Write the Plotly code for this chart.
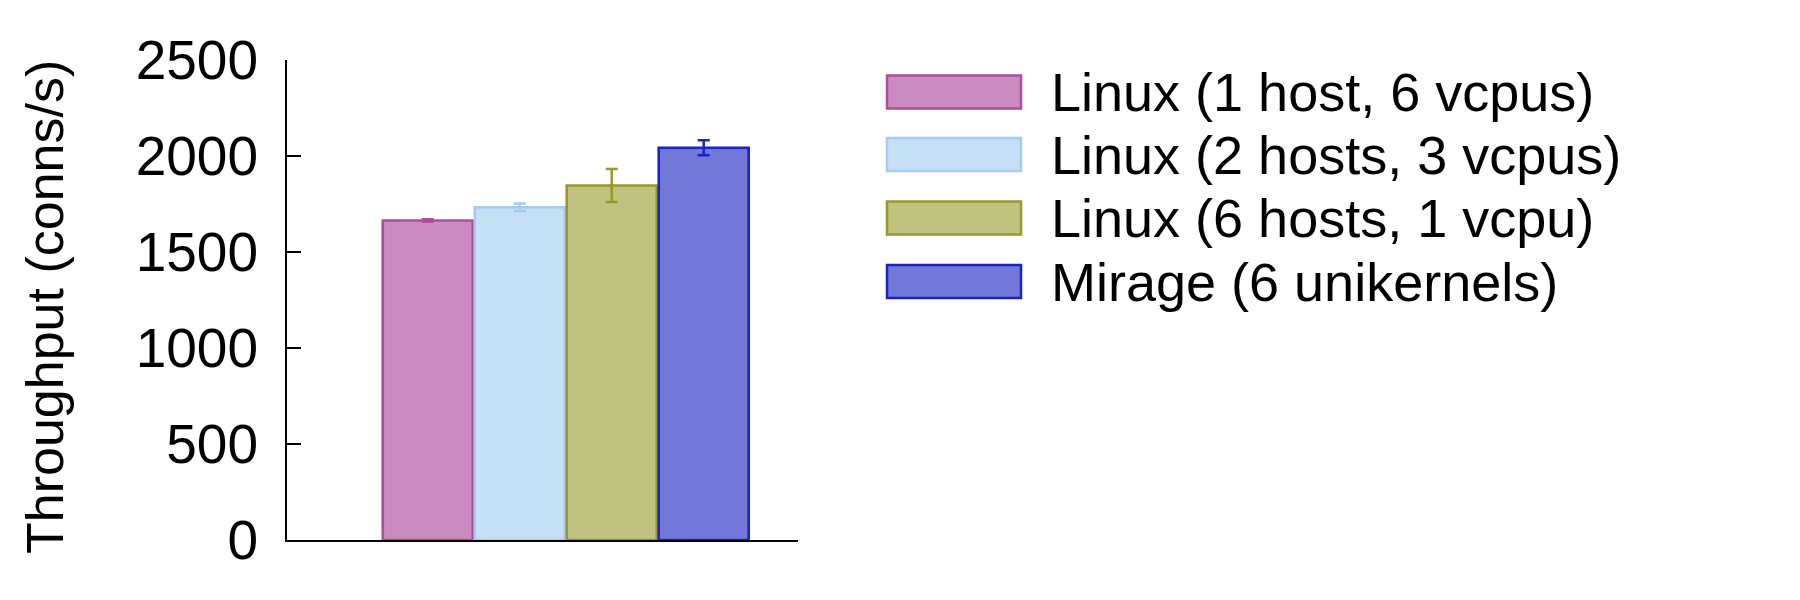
import plotly.graph_objects as go

# ---- data ----
series_names = [
    "Linux (1 host, 6 vcpus)",
    "Linux (2 hosts, 3 vcpus)",
    "Linux (6 hosts, 1 vcpu)",
    "Mirage (6 unikernels)",
]
throughput = [1664, 1733, 1846, 2043]
throughput_err = [7, 20, 86, 39]
category = ["all"]
y_ticks = [0, 500, 1000, 1500, 2000, 2500]

fill_colors = ["rgb(201,139,192)", "rgb(197,223,245)", "rgb(192,194,128)", "rgb(114,120,216)"]
line_colors = ["rgb(176,76,160)", "rgb(165,204,240)", "rgb(152,152,40)", "rgb(26,34,200)"]

FONT = "Liberation Sans, Arial, Helvetica, sans-serif"

# ---- layout geometry (pixels) ----
W, H = 1800, 600
L, R, T, B = 287, 1800 - 798, 60, 60
pw, ph = W - L - R, H - T - B


def px_x(px):
    return (px - L) / pw


def px_y(py):
    return (H - B - py) / ph


fig = go.Figure()
for name, val, err, fc, lc in zip(series_names, throughput, throughput_err, fill_colors, line_colors):
    fig.add_trace(go.Bar(
        x=category,
        y=[val],
        name=name,
        marker=dict(color=fc, line=dict(color=lc, width=2.6)),
        error_y=dict(type="data", array=[err], visible=True, color=lc, thickness=2.5, width=6),
        showlegend=False,
    ))

# manual legend (large boxes like the original)
box_x0, box_x1 = 887, 1021
row_centers = [92, 154.5, 218, 281.5]
box_h = 33
for name, fc, lc, cy in zip(series_names, fill_colors, line_colors, row_centers):
    fig.add_shape(
        type="rect", xref="paper", yref="paper",
        x0=px_x(box_x0), x1=px_x(box_x1),
        y0=px_y(cy + box_h / 2), y1=px_y(cy - box_h / 2),
        fillcolor=fc, line=dict(color=lc, width=2.5),
    )
    fig.add_annotation(
        xref="paper", yref="paper", x=px_x(1049), y=px_y(cy),
        xanchor="left", yanchor="middle", text=name, showarrow=False,
        font=dict(family=FONT, size=54, color="black"),
    )

# y-axis title
fig.add_annotation(
    xref="paper", yref="paper", x=px_x(45), y=px_y(307),
    xanchor="center", yanchor="middle", text="Throughput (conns/s)",
    textangle=-90, showarrow=False,
    font=dict(family=FONT, size=52, color="black"),
)

fig.update_layout(
    width=W, height=H,
    margin=dict(l=L, r=R, t=T, b=B, pad=0),
    paper_bgcolor="white", plot_bgcolor="white",
    barmode="group", bargap=0.2, bargroupgap=0.022,
    font=dict(family=FONT, size=55, color="black"),
    xaxis=dict(
        type="category", range=[-0.606, 0.505],
        showline=True, linecolor="black", linewidth=2,
        ticks="", showticklabels=False, showgrid=False, zeroline=False,
    ),
    yaxis=dict(
        range=[0, 2500], tickvals=y_ticks, ticktext=[str(v) for v in y_ticks],
        showline=True, linecolor="black", linewidth=2,
        ticks="inside", ticklen=14, tickwidth=2, tickcolor="black",
        showgrid=False, zeroline=False,
        tickfont=dict(family=FONT, size=55, color="black"),
        ticklabelstandoff=16,
    ),
)

fig.write_html("out.html")
